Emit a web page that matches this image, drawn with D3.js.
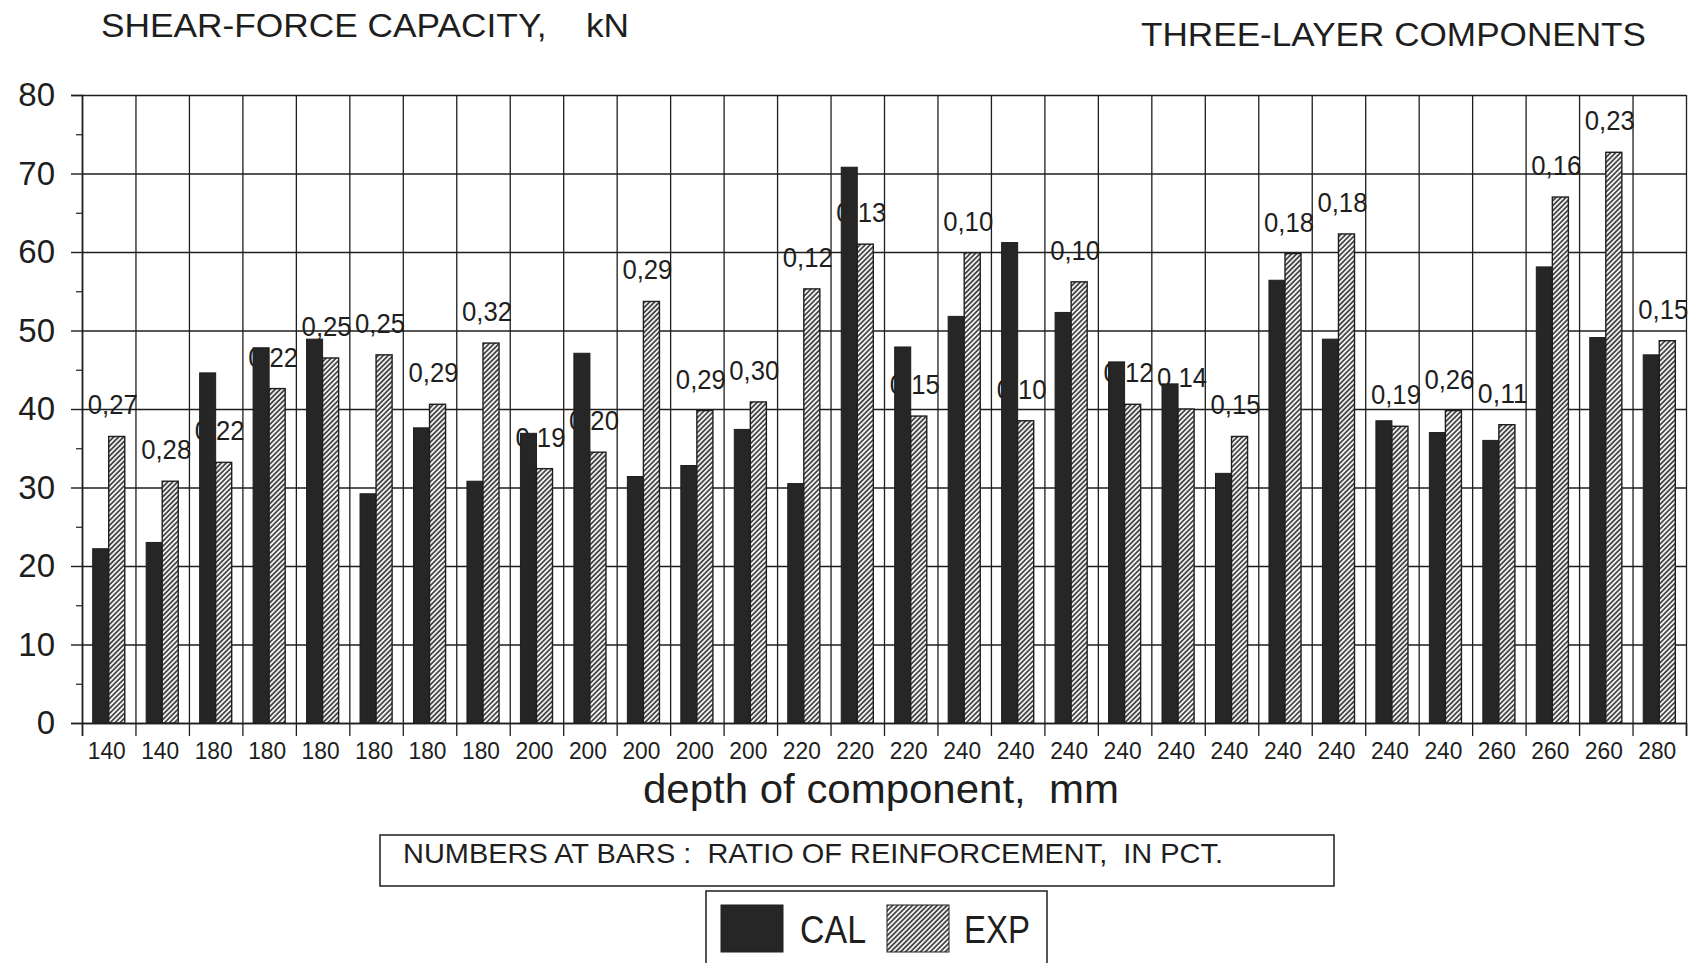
<!DOCTYPE html>
<html><head><meta charset="utf-8">
<script src="https://cdn.jsdelivr.net/npm/d3@7"></script>
<style>body{margin:0;background:#fff} svg{display:block}</style>
</head><body><svg id="c" width="1700" height="963"></svg>
<script>
const depths = [140,140,180,180,180,180,180,180,200,200,200,200,200,220,220,220,240,240,240,240,240,240,240,240,240,240,260,260,260,280];
const calValues = [22.2,23.0,44.6,47.8,48.9,29.2,37.6,30.8,36.9,47.1,31.4,32.8,37.4,30.5,70.8,47.9,51.8,61.2,52.3,46.0,43.2,31.8,56.4,48.9,38.5,37.0,36.0,58.1,49.1,46.9];
const expValues = [36.5,30.8,33.2,42.6,46.5,46.9,40.6,48.4,32.4,34.5,53.7,39.8,40.9,55.3,61.0,39.1,59.9,38.5,56.2,40.6,40.0,36.5,59.8,62.3,37.8,39.8,38.0,67.0,72.7,48.7];
const ratios = ["0,27","0,28","0,22","0,22","0,25","0,25","0,29","0,32","0,19","0,20","0,29","0,29","0,30","0,12","0,13","0,15","0,10","0,10","0,10","0,12","0,14","0,15","0,18","0,18","0,19","0,26","0,11","0,16","0,23","0,15"];
const yTicks = [0,10,20,30,40,50,60,70,80];
const yMinorTicks = [5,15,25,35,45,55,65,75];
const seriesNames = ["CAL","EXP"];

const svg = d3.select("#c");
const L = 82, R = 1686, T = 95, B = 723;
const ink = "#1e1e1e";
const idx = d3.range(depths.length);
const x = d3.scaleBand().domain(idx).range([L, R]).paddingInner(0).paddingOuter(0);
const xb = d3.scaleLinear().domain([0, depths.length]).range([L, R]);
const y = d3.scaleLinear().domain([0, 80]).range([B, T]);
const bw = x.bandwidth() * 0.3;

const defs = svg.append("defs");
const pat = defs.append("pattern").attr("id", "hatch").attr("patternUnits", "userSpaceOnUse")
  .attr("width", 3.5).attr("height", 3.5).attr("patternTransform", "rotate(45)");
pat.append("rect").attr("width", 3.5).attr("height", 3.5).attr("fill", "#f2f2f2");
pat.append("line").attr("x1", 0.9).attr("y1", 0).attr("x2", 0.9).attr("y2", 3.5)
  .attr("stroke", "#2a2a2a").attr("stroke-width", 1.5);

const font = "'Liberation Sans', Arial, sans-serif";

// horizontal grid
svg.append("g").attr("transform", `translate(${L},0)`)
  .call(d3.axisLeft(y).tickValues(yTicks).tickSize(-(R - L)).tickFormat(""))
  .call(g => g.select(".domain").remove())
  .call(g => g.selectAll("line").attr("stroke", ink).attr("stroke-width", 1.3));
// vertical grid at category boundaries
svg.append("g").attr("transform", `translate(0,${B})`)
  .call(d3.axisBottom(xb).tickValues(d3.range(depths.length + 1)).tickSize(-(B - T)).tickFormat(""))
  .call(g => g.select(".domain").remove())
  .call(g => g.selectAll("line").attr("stroke", ink).attr("stroke-width", 1.3));

// ratio labels (behind bars)
svg.append("g").selectAll("text").data(idx).join("text")
  .attr("x", i => x(i) + x.bandwidth() / 2 + 4)
  .attr("y", i => y(expValues[i]) - 22)
  .attr("text-anchor", "middle")
  .attr("font-family", font).attr("font-size", 27).attr("fill", ink)
  .attr("textLength", 50).attr("lengthAdjust", "spacingAndGlyphs")
  .text(i => ratios[i]);

// bars
svg.append("g").selectAll("rect").data(idx).join("rect")
  .attr("x", i => x(i) + x.bandwidth() / 2 - bw)
  .attr("y", i => y(calValues[i]))
  .attr("width", bw).attr("height", i => y(0) - y(calValues[i]))
  .attr("fill", "#262626").attr("stroke", ink).attr("stroke-width", 1);
svg.append("g").selectAll("rect").data(idx).join("rect")
  .attr("x", i => x(i) + x.bandwidth() / 2)
  .attr("y", i => y(expValues[i]))
  .attr("width", bw).attr("height", i => y(0) - y(expValues[i]))
  .attr("fill", "url(#hatch)").attr("stroke", ink).attr("stroke-width", 1.4);

// y axis
svg.append("g").attr("transform", `translate(${L},0)`)
  .call(d3.axisLeft(y).tickValues(yTicks).tickSize(11).tickPadding(16))
  .call(g => g.select(".domain").attr("stroke", ink).attr("stroke-width", 1.6))
  .call(g => g.selectAll("line").attr("stroke", ink).attr("stroke-width", 1.4))
  .call(g => g.selectAll("text").attr("font-family", font).attr("font-size", 33).attr("fill", ink));
svg.append("g").attr("transform", `translate(${L},0)`)
  .call(d3.axisLeft(y).tickValues(yMinorTicks).tickSize(6).tickFormat(""))
  .call(g => g.select(".domain").remove())
  .call(g => g.selectAll("line").attr("stroke", ink).attr("stroke-width", 1.2));

// x axis
svg.append("g").attr("transform", `translate(0,${B})`)
  .call(d3.axisBottom(xb).tickValues(d3.range(depths.length + 1)).tickSize(13).tickFormat(""))
  .call(g => g.select(".domain").attr("stroke", ink).attr("stroke-width", 1.6))
  .call(g => g.selectAll("line").attr("stroke", ink).attr("stroke-width", 1.3));
svg.append("g").attr("transform", `translate(0,${B})`)
  .call(d3.axisBottom(x).tickSize(0).tickPadding(19).tickFormat(i => depths[i]))
  .call(g => g.select(".domain").remove())
  .call(g => g.selectAll("text").attr("font-family", font).attr("font-size", 24).attr("fill", ink)
    .attr("dx", -2).attr("textLength", 38).attr("lengthAdjust", "spacingAndGlyphs"));

// titles
svg.append("text").attr("x", 101).attr("y", 37).attr("font-family", font).attr("font-size", 33)
  .attr("fill", ink).attr("textLength", 528).attr("lengthAdjust", "spacingAndGlyphs")
  .attr("xml:space", "preserve").text("SHEAR-FORCE CAPACITY,    kN");
svg.append("text").attr("x", 1141).attr("y", 46).attr("font-family", font).attr("font-size", 33)
  .attr("fill", ink).attr("textLength", 505).attr("lengthAdjust", "spacingAndGlyphs")
  .text("THREE-LAYER COMPONENTS");
svg.append("text").attr("x", 643).attr("y", 803).attr("font-family", font).attr("font-size", 40)
  .attr("fill", ink).attr("textLength", 476).attr("lengthAdjust", "spacingAndGlyphs")
  .attr("xml:space", "preserve").text("depth of component,  mm");

// note box
svg.append("rect").attr("x", 380).attr("y", 835).attr("width", 954).attr("height", 51)
  .attr("fill", "none").attr("stroke", ink).attr("stroke-width", 1.5);
svg.append("text").attr("x", 403).attr("y", 863).attr("font-family", font).attr("font-size", 28)
  .attr("fill", ink).attr("textLength", 820).attr("lengthAdjust", "spacingAndGlyphs")
  .attr("xml:space", "preserve").text("NUMBERS AT BARS :  RATIO OF REINFORCEMENT,  IN PCT.");

// legend
const lg = svg.append("g");
lg.append("rect").attr("x", 706).attr("y", 891).attr("width", 341).attr("height", 80)
  .attr("fill", "none").attr("stroke", ink).attr("stroke-width", 1.5);
const legendItems = [
  {name: seriesNames[0], fill: "#262626", sx: 721, tx: 800},
  {name: seriesNames[1], fill: "url(#hatch)", sx: 887, tx: 964}
];
lg.selectAll("rect.sw").data(legendItems).join("rect").attr("class", "sw")
  .attr("x", d => d.sx).attr("y", 905).attr("width", 62).attr("height", 47)
  .attr("fill", d => d.fill).attr("stroke", ink).attr("stroke-width", 1);
lg.selectAll("text").data(legendItems).join("text")
  .attr("x", d => d.tx).attr("y", 943).attr("font-family", font).attr("font-size", 38)
  .attr("fill", ink).attr("textLength", 66).attr("lengthAdjust", "spacingAndGlyphs")
  .text(d => d.name);
</script></body></html>
